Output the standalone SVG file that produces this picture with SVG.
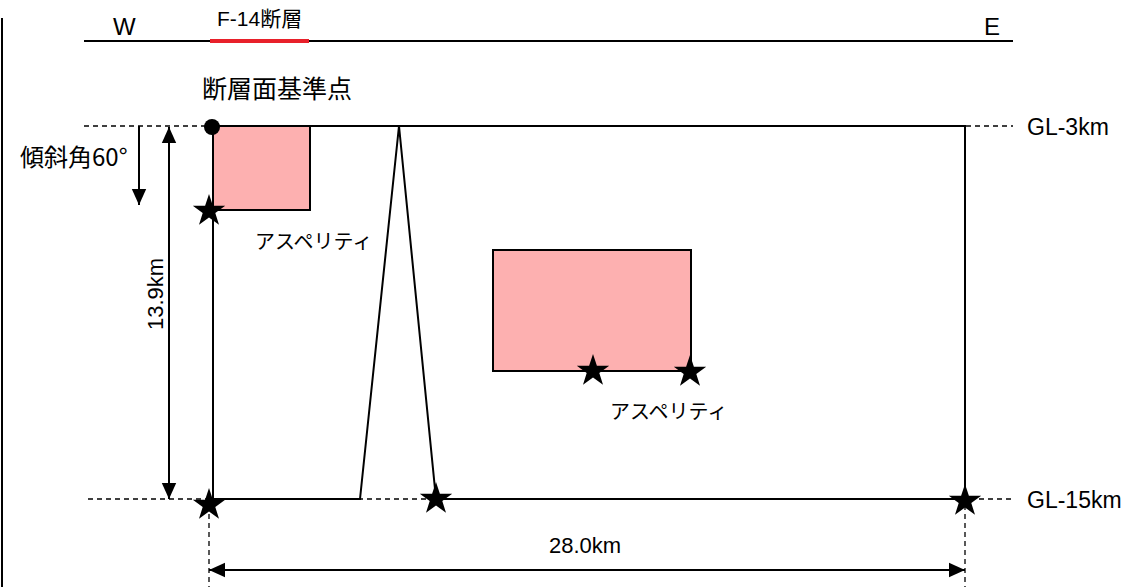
<svg xmlns="http://www.w3.org/2000/svg" width="1144" height="587" viewBox="0 0 1144 587">
<style>
.t{font-family:"Liberation Sans","Noto Sans CJK JP",sans-serif;fill:#000}
.j{font-family:"Noto Sans CJK JP","Liberation Sans",sans-serif;fill:#000}
.ln{stroke:#000;stroke-width:2;fill:none}
.ds{stroke:#000;stroke-width:1.3;fill:none;stroke-dasharray:5 4}
.asp{fill:#FDB0B0;stroke:#000;stroke-width:2}
</style>
<defs>
<marker id="ahb" viewBox="0 0 10 10" refX="10" refY="5" markerWidth="16" markerHeight="16" markerUnits="userSpaceOnUse" orient="auto-start-reverse">
<path d="M0,0.5 L10,5 L0,9.5 Z" fill="#000"/>
</marker>
<path id="star" d="M0,-17 L3.9,-5.3 L16.2,-5.3 L6.3,2 L10,13.8 L0,6.5 L-10,13.8 L-6.3,2 L-16.2,-5.3 L-3.9,-5.3 Z" fill="#000"/>
</defs>
<line x1="2" y1="18" x2="2" y2="587" stroke="#000" stroke-width="2"/>
<g id="ground">
<line x1="84" y1="41" x2="1013" y2="41" stroke="#000" stroke-width="2"/>
<line x1="210" y1="41" x2="309" y2="41" stroke="#E8202A" stroke-width="4"/>
<text class="t" x="113" y="35" font-size="24">W</text>
<text class="t" x="984" y="35" font-size="24">E</text>
<text class="t" x="217" y="26" font-size="21">F-14<tspan class="j">断層</tspan></text>
</g>
<g id="connectors">
<line class="ds" x1="84" y1="126" x2="1013" y2="126"/>
<line class="ds" x1="88" y1="499" x2="1013" y2="499"/>
<line class="ds" x1="209" y1="505" x2="209" y2="587"/>
<line class="ds" x1="965" y1="505" x2="965" y2="587"/>
<line class="ln" x1="139" y1="126" x2="139" y2="205" marker-end="url(#ahb)"/>
<line class="ln" x1="169" y1="127" x2="169" y2="499" marker-start="url(#ahb)" marker-end="url(#ahb)"/>
<line class="ln" x1="209" y1="570" x2="965" y2="570" marker-start="url(#ahb)" marker-end="url(#ahb)"/>
</g>
<g id="fault">
<path class="ln" d="M213,126 H965 V499 H436 L399,126 L360,499 H213 Z"/>
</g>
<g id="asperity1">
<rect class="asp" x="213" y="126" width="97" height="84"/>
<text class="j" x="255" y="249" font-size="20">アスペリティ</text>
</g>
<g id="asperity2">
<rect class="asp" x="493" y="250" width="198" height="121"/>
<text class="j" x="610" y="419" font-size="20">アスペリティ</text>
</g>
<g id="refpoint">
<circle cx="212" cy="127" r="8" fill="#000"/>
<text class="j" x="202" y="98" font-size="25">断層面基準点</text>
</g>
<g id="stars">
<use href="#star" x="209" y="211"/>
<use href="#star" x="209" y="505"/>
<use href="#star" x="436" y="499"/>
<use href="#star" x="965" y="501"/>
<use href="#star" x="593" y="371"/>
<use href="#star" x="690" y="372"/>
</g>
<g id="labels">
<text class="j" x="20" y="166" font-size="24">傾斜角60°</text>
<text class="t" x="0" y="0" font-size="22" text-anchor="middle" transform="translate(163,294) rotate(-90)">13.9km</text>
<text class="t" x="585" y="553" font-size="22" text-anchor="middle">28.0km</text>
<text class="t" x="1027" y="135" font-size="23">GL-3km</text>
<text class="t" x="1027" y="508" font-size="23">GL-15km</text>
</g>
</svg>
